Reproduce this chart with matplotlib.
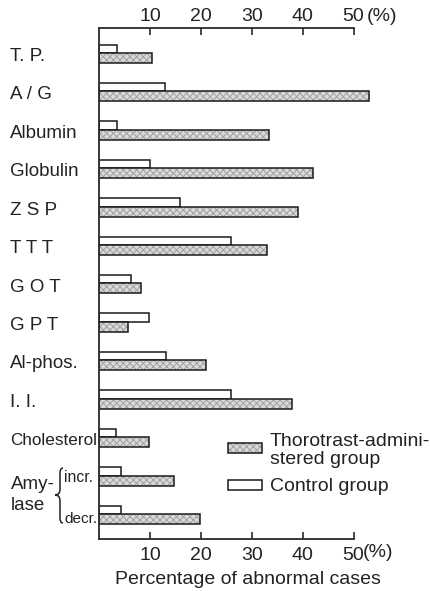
import matplotlib
matplotlib.use("Agg")
import matplotlib.pyplot as plt
from matplotlib.patches import Rectangle, PathPatch
from matplotlib.path import Path
from matplotlib.transforms import blended_transform_factory

plt.rcParams['font.family'] = ['Liberation Sans', 'DejaVu Sans']
plt.rcParams['hatch.linewidth'] = 0.7

categories = ["T. P.", "A / G", "Albumin", "Globulin", "Z S P", "T T T", "G O T",
              "G P T", "Al-phos.", "I. I.", "Cholesterol", "incr.", "decr."]
thorotrast = [10.5, 53.0, 33.3, 42.0, 39.0, 33.0, 8.3, 5.7, 21.0, 38.0, 9.9, 14.8, 19.9]
control = [3.6, 13.0, 3.5, 10.0, 16.0, 26.0, 6.3, 9.9, 13.1, 26.0, 3.3, 4.3, 4.3]
ticks = [10, 20, 30, 40, 50]
xlabel = "Percentage of abnormal cases"

W, H = 431, 591
fig = plt.figure(figsize=(W / 100, H / 100), dpi=100)
TXT = '#222222'
LN = '#2a2a2a'


def fx(px):
    return px / W


def fy(py):
    return 1 - py / H


x0, x1 = 99, 404
ytop, ybot = 28, 539
ax = fig.add_axes([fx(x0), fy(ybot), fx(x1) - fx(x0), fy(ytop) - fy(ybot)])
ax.set_xlim(0, 59.9)
ax.set_ylim(12.65, -0.65)

n = len(categories)
ypos = list(range(n))
hc, ht = 0.22, 0.26
ax.barh([y - hc for y in ypos], control, height=hc, align='edge',
        facecolor='white', edgecolor='#1a1a1a', linewidth=1.1)
ax.barh(ypos, thorotrast, height=ht, align='edge',
        facecolor='#dadada', edgecolor='#a0a0a0', hatch='xxxxx', linewidth=0)
ax.barh(ypos, thorotrast, height=ht, align='edge',
        fill=False, edgecolor='#1a1a1a', linewidth=1.1)

ax.spines['right'].set_visible(False)
ax.spines['top'].set_visible(False)
for s in ['bottom', 'left']:
    ax.spines[s].set_linewidth(1.3)
    ax.spines[s].set_color(LN)
ax.spines['bottom'].set_bounds(0, 50)

ax.set_xticks(ticks)
ax.set_xticklabels([str(t) for t in ticks])
ax.set_yticks([])
ax.tick_params(axis='x', which='both', bottom=True, labelbottom=True,
               direction='in', length=5, width=1.2, color=LN,
               labelsize=14, labelcolor=TXT, pad=6)

sec = ax.secondary_xaxis('top')
sec.set_xticks(ticks)
sec.set_xticklabels([str(t) for t in ticks])
sec.tick_params(axis='x', direction='in', length=5, width=1.2, color=LN,
                labelsize=14, labelcolor=TXT, pad=2)
sec.spines['top'].set_bounds(0, 50)
sec.spines['top'].set_linewidth(1.3)
sec.spines['top'].set_color(LN)

# (%) after 50
fig.text(fx(367), fy(21), "(%)", ha='left', va='baseline', fontsize=14, color=TXT)
fig.text(fx(363), fy(557), "(%)", ha='left', va='baseline', fontsize=14, color=TXT)

# category labels
tr = blended_transform_factory(fig.transFigure, ax.transData)
for i, c in enumerate(categories[:10]):
    ax.text(fx(10), i + 0.21, c, transform=tr, ha='left', va='baseline',
            fontsize=13.5, color=TXT)
ax.text(fx(10), 10 + 0.21, categories[10], transform=tr, ha='left', va='baseline',
        fontsize=12.3, color=TXT)
ax.text(fx(64), 11 + 0.16, categories[11], transform=tr, ha='left', va='baseline',
        fontsize=11.3, color=TXT)
ax.text(fx(64), 12 + 0.23, categories[12], transform=tr, ha='left', va='baseline',
        fontsize=11, color=TXT)
fig.text(fx(11), fy(489), "Amy-", ha='left', va='baseline', fontsize=13.5, color=TXT)
fig.text(fx(11), fy(510), "lase", ha='left', va='baseline', fontsize=13.5, color=TXT)

# brace
verts = [(63, 468), (60, 468), (60, 473), (60, 489), (60, 495), (55, 495),
         (60, 495), (60, 501), (60, 518), (60, 523), (63, 523)]
codes = [Path.MOVETO, Path.CURVE3, Path.CURVE3, Path.LINETO, Path.CURVE3, Path.CURVE3,
         Path.CURVE3, Path.CURVE3, Path.LINETO, Path.CURVE3, Path.CURVE3]
verts = [(fx(a), fy(b)) for a, b in verts]
fig.add_artist(PathPatch(Path(verts, codes), transform=fig.transFigure,
                         fill=False, edgecolor=TXT, linewidth=1.1))

# legend
fig.add_artist(Rectangle((fx(228), fy(453)), fx(262) - fx(228), fy(443) - fy(453),
                         transform=fig.transFigure, facecolor='#dadada',
                         edgecolor='#a0a0a0', hatch='xxxxx', linewidth=0))
fig.add_artist(Rectangle((fx(228), fy(453)), fx(262) - fx(228), fy(443) - fy(453),
                         transform=fig.transFigure, fill=False,
                         edgecolor='#1a1a1a', linewidth=1.1))
fig.add_artist(Rectangle((fx(228), fy(490)), fx(262) - fx(228), fy(480) - fy(490),
                         transform=fig.transFigure, facecolor='white',
                         edgecolor='#1a1a1a', linewidth=1.1))
fig.text(fx(270), fy(446), "Thorotrast-admini-", ha='left', va='baseline',
         fontsize=14, color=TXT)
fig.text(fx(270), fy(464), "stered group", ha='left', va='baseline',
         fontsize=14, color=TXT)
fig.text(fx(270), fy(491), "Control group", ha='left', va='baseline',
         fontsize=14, color=TXT)

fig.text(fx(248), fy(584), xlabel, ha='center', va='baseline',
         fontsize=14, color=TXT)

fig.savefig("out.png", dpi=100, facecolor='white')
